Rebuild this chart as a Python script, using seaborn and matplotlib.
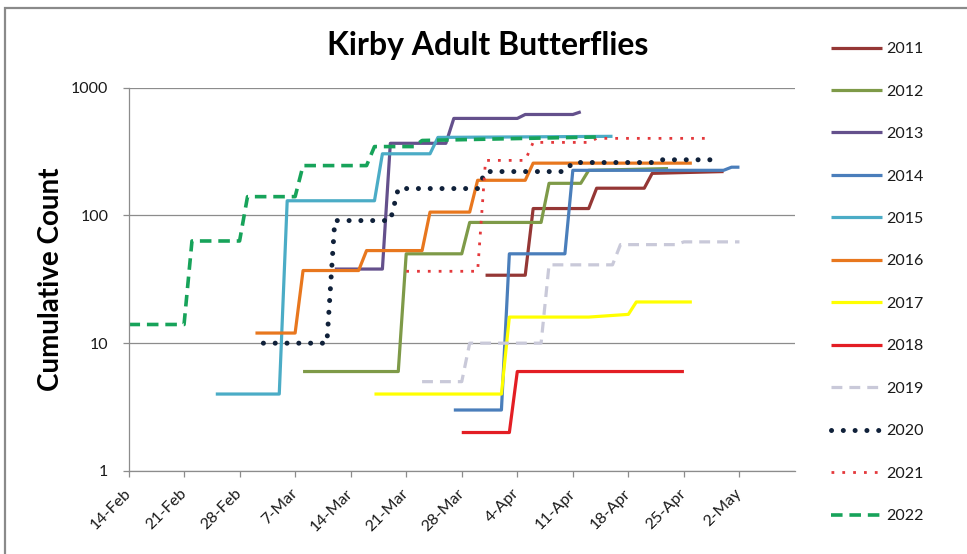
import matplotlib
matplotlib.use("Agg")
import matplotlib.pyplot as plt
import matplotlib.patches as mpatches
import matplotlib.transforms as mtransforms
import seaborn as sns
import pandas as pd
import numpy as np

# ---------------- data ----------------
years = ["2011", "2012", "2013", "2014", "2015", "2016",
         "2017", "2018", "2019", "2020", "2021", "2022"]

d2011 = ["03-31", "04-05", "04-06", "04-13", "04-14", "04-20", "04-21", "04-30"]
c2011 = [34, 34, 113, 113, 163, 163, 213, 220]

d2012 = ["03-08", "03-20", "03-21", "03-28", "03-29", "04-07", "04-08", "04-12", "04-13", "04-23"]
c2012 = [6, 6, 50, 50, 88, 88, 178, 178, 225, 232]

d2013 = ["03-12", "03-18", "03-19", "03-26", "03-27", "04-04", "04-05", "04-11", "04-12"]
c2013 = [38, 38, 366, 366, 573, 573, 615, 615, 645]

d2014 = ["03-27", "04-02", "04-03", "04-10", "04-11", "04-30", "05-01", "05-02"]
c2014 = [3, 3, 50, 50, 225, 225, 238, 238]

d2015 = ["02-25", "03-05", "03-06", "03-17", "03-18", "03-24", "03-25", "04-16"]
c2015 = [4, 4, 130, 130, 303, 303, 407, 415]

d2016 = ["03-02", "03-07", "03-08", "03-15", "03-16", "03-23", "03-24", "03-29", "03-30", "04-05", "04-06", "04-26"]
c2016 = [12, 12, 37, 37, 53, 53, 106, 106, 188, 188, 256, 256]

d2017 = ["03-17", "04-02", "04-03", "04-13", "04-18", "04-19", "04-26"]
c2017 = [4, 4, 16, 16, 16.8, 21, 21]

d2018 = ["03-28", "04-03", "04-04", "04-25"]
c2018 = [2, 2, 6, 6]

d2019 = ["03-23", "03-28", "03-29", "04-07", "04-08", "04-16", "04-17", "04-24", "04-25", "05-02"]
c2019 = [5, 5, 10, 10, 41, 41, 59, 59, 62, 62]

d2020 = ["03-03", "03-11", "03-12", "03-19", "03-20", "03-30", "03-31", "04-10", "04-11", "04-21", "04-22", "04-29"]
c2020 = [10, 10, 91, 91, 162, 162, 220, 220, 259, 259, 272, 272]

d2021 = ["03-21", "03-30", "03-31", "04-05", "04-06", "04-13", "04-14", "04-28"]
c2021 = [36.5, 36.5, 269, 269, 372, 372, 400, 400]

d2022 = ["02-14", "02-21", "02-22", "02-28", "03-01", "03-07", "03-08", "03-16", "03-17", "03-22", "03-23", "04-05", "04-14"]
c2022 = [14, 14, 63, 63, 140, 140, 245, 245, 345, 345, 385, 400, 410]

x_ticks = ["02-14", "02-21", "02-28", "03-07", "03-14", "03-21", "03-28",
           "04-04", "04-11", "04-18", "04-25", "05-02"]
x_tick_labels = ["14-Feb", "21-Feb", "28-Feb", "7-Mar", "14-Mar", "21-Mar", "28-Mar",
                 "4-Apr", "11-Apr", "18-Apr", "25-Apr", "2-May"]
y_ticks = [1, 10, 100, 1000]
y_tick_labels = ["1", "10", "100", "1000"]

series_dates = [d2011, d2012, d2013, d2014, d2015, d2016, d2017, d2018, d2019, d2020, d2021, d2022]
series_counts = [c2011, c2012, c2013, c2014, c2015, c2016, c2017, c2018, c2019, c2020, c2021, c2022]

# ---------------- styles ----------------
colors = ["#953735", "#7E9A48", "#64508C", "#4A7EBB", "#4BACC6", "#E8771E",
          "#FFFF00", "#E31E24", "#C9C9D9", "#10213A", "#E4383B", "#17A35A"]
styles = [
    dict(lw=2.3, ls="-"),
    dict(lw=2.3, ls="-"),
    dict(lw=2.3, ls="-"),
    dict(lw=2.3, ls="-"),
    dict(lw=2.3, ls="-"),
    dict(lw=2.3, ls="-"),
    dict(lw=2.3, ls="-"),
    dict(lw=2.3, ls="-"),
    dict(lw=2.3, ls=(0, (3.4, 2.2)), cap="butt"),
    dict(lw=3.6, ls=(0, (0.01, 2.35)), cap="round"),
    dict(lw=2.0, ls=(0, (1.0, 2.9)), cap="butt"),
    dict(lw=2.6, ls=(0, (3.2, 1.9)), cap="butt"),
]

FONT = ["Lato", "DejaVu Sans"]

sns.set_theme(style="white")
plt.rcParams["font.family"] = FONT

fig = plt.figure(figsize=(9.67, 5.54), dpi=100)
ax = fig.add_axes([128.5 / 967, 1 - 471 / 554, (795 - 128.5) / 967, (471 - 87.5) / 554])

YEAR = "2001-"
for yr, ds, cs, col, st in zip(years, series_dates, series_counts, colors, styles):
    df = pd.DataFrame({"date": pd.to_datetime([YEAR + d for d in ds]), "count": cs})
    sns.lineplot(data=df, x="date", y="count", ax=ax, color=col, linewidth=st["lw"],
                 linestyle=st["ls"], label=yr, sort=False, estimator=None,
                 dash_capstyle=st.get("cap", "butt"), solid_capstyle="butt")

ax.set_yscale("log")
ax.set_ylim(1, 1000)
ax.set_xlim(pd.Timestamp("2001-02-14"), pd.Timestamp("2001-05-09"))

ax.set_yticks(y_ticks)
ax.set_yticklabels(y_tick_labels)
ax.yaxis.set_minor_locator(matplotlib.ticker.NullLocator())
xt = pd.to_datetime([YEAR + d for d in x_ticks])
ax.set_xticks(xt)
ax.set_xticklabels(x_tick_labels, rotation=45, ha="right", va="center",
                   rotation_mode="anchor")
offset = mtransforms.ScaledTranslation(4 / 100, 0, fig.dpi_scale_trans)
for lab in ax.get_xticklabels():
    lab.set_transform(lab.get_transform() + offset)

grid_col = "#8C8C8C"
ax.grid(axis="y", color=grid_col, linewidth=0.9)
ax.grid(axis="x", visible=False)
for s in ["top", "right"]:
    ax.spines[s].set_visible(False)
for s in ["left", "bottom"]:
    ax.spines[s].set_color(grid_col)
    ax.spines[s].set_linewidth(0.9)
ax.tick_params(axis="both", which="major", direction="out", length=4.5, width=0.9,
               color=grid_col, labelsize=11.5, labelcolor="#1a1a1a", left=True, bottom=True)
ax.tick_params(axis="y", pad=10)
ax.tick_params(axis="x", pad=10)

ax.set_xlabel("")
ax.set_ylabel("Cumulative Count", fontsize=20, fontweight="bold", color="black", labelpad=5)

fig.text(488 / 967, 1 - 45 / 554, "Kirby Adult Butterflies", ha="center", va="center",
         fontsize=23, fontweight="bold", color="black")

leg = ax.legend(loc="upper left", bbox_to_anchor=(831 / 967, 1 - 42 / 554),
                bbox_transform=fig.transFigure, frameon=False, fontsize=11.5,
                handlelength=3.2, handletextpad=0.28, labelspacing=1.77,
                borderpad=0, borderaxespad=0)
for t in leg.get_texts():
    t.set_color("#1a1a1a")

# outer chart border
fig.patches.append(mpatches.Rectangle((5 / 967, -0.1), 2, 0.1 + 1 - 8 / 554,
                                      transform=fig.transFigure, fill=False,
                                      edgecolor="#8A8A8A", linewidth=1.6))

fig.savefig("out.png", dpi=100)
